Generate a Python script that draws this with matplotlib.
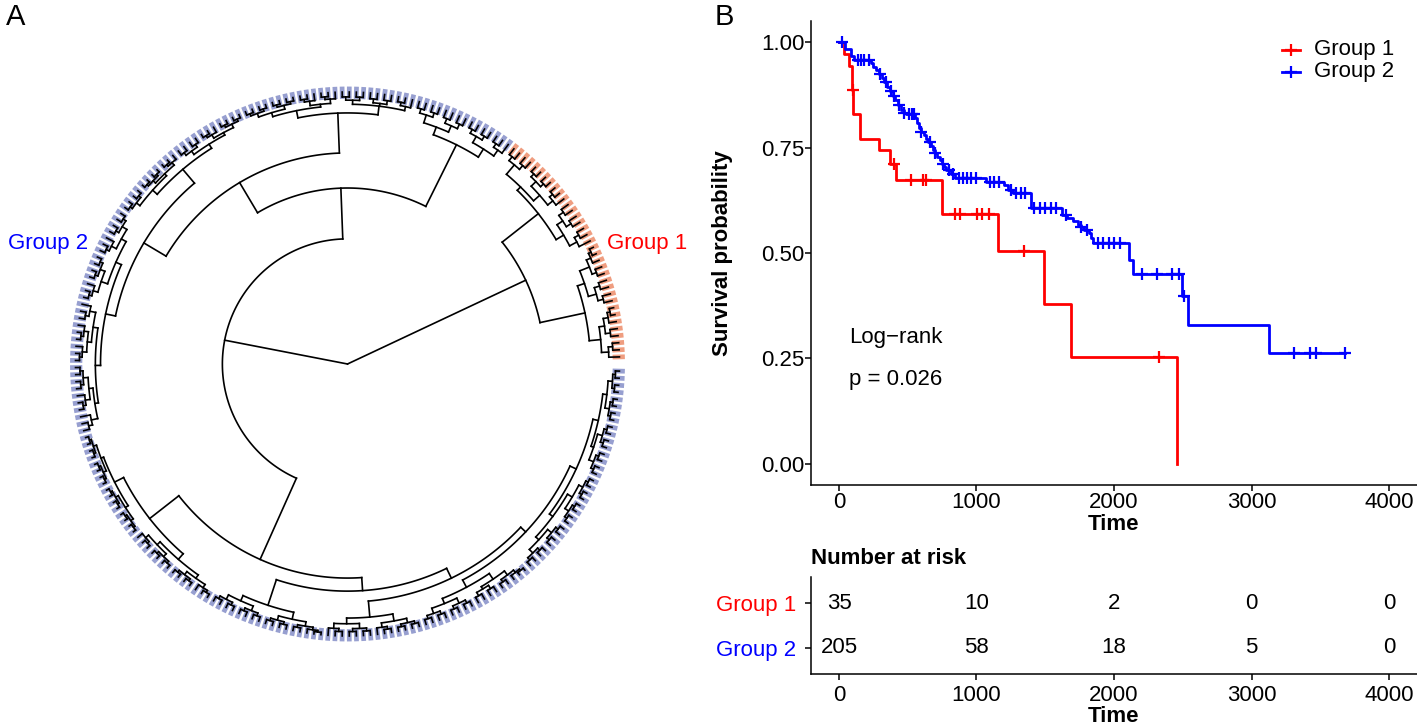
import numpy as np
import matplotlib
matplotlib.use("Agg")
import matplotlib.pyplot as plt
from matplotlib.collections import LineCollection
from matplotlib.lines import Line2D

plt.rcParams['font.family'] = ['Liberation Sans', 'DejaVu Sans']

W, H = 1417, 725

# ---------------- data ----------------
# dendrogram nodes: [height, child, child, ...]; an int is a small clade of n leaves
g1_tree = [0.724,
           [0.893, [0.935, 3, [0.955, 2, 3]], [0.92, [0.95, 4], [0.958, 5]]],
           [0.893, [0.925, [0.955, 3], [0.95, 4]], [0.91, [0.94, 3, 4], [0.955, 4]]]]
a_right = [0.90, [0.935, 3, 4], [0.93, [0.955, 4], [0.96, 4]]]
a_left_1 = [0.923, [0.955, [0.97, 3], [0.965, 4], [0.97, 4]], [0.95, [0.96, 3, 3], [0.965, 4, 4]]]
a_left_2a = [0.9375, [0.955, [0.965, 4, 3], [0.97, 4]], [0.96, [0.97, 3, 4], 4]]
a_left_2b = [0.908, [0.93, [0.95, 4, 3], [0.955, 4, 3]],
             [0.927, [0.945, 3, [0.96, 3, 3]], [0.94, [0.955, 4, 3], 3]]]
b1 = [0.923, [0.96, [0.97, 4, 4], [0.972, 4, 4]], [0.95, [0.965, 3, 4], [0.965, 4, 3]]]
b2a = [0.934, [0.955, 4, 4], [0.96, 4, 5]]
b2b1 = [0.934, [0.955, 3, 4], [0.96, 3, 4]]
b2b2c1 = [0.93, [0.95, 4, 4], [0.955, [0.965, 4], 5]]
b2b2c2 = [0.925, [0.94, [0.955, 4, 4], [0.96, 4, 4]], [0.945, [0.955, 4, 4], [0.96, 4, 4]]]
g2_tree = [0.46,
           [0.647, a_right, [0.776, a_left_1, [0.871, a_left_2a, a_left_2b]]],
           [0.787, b1, [0.835, b2a, [0.875, b2b1, [0.90, b2b2c1, b2b2c2]]]]]
tree = [0.0, g1_tree, g2_tree]
n_group1 = 35
n_leaves = 240

# Kaplan-Meier steps (time, survival after the step)
g1_time = [0, 39, 71, 94, 103, 152, 291, 371, 416, 749, 1153, 1491, 1685, 2460]
g1_surv = [1.0, 0.971, 0.943, 0.886, 0.829, 0.771, 0.743, 0.711, 0.674, 0.593, 0.505, 0.379, 0.253, 0.0]
g1_cens = [100, 400, 523, 613, 636, 846, 878, 1007, 1040, 1090, 1346, 2324]

g2_time = [0, 45, 85, 110, 230, 250, 270, 290, 310, 330, 350, 370, 390, 410, 430, 450, 470, 490,
           555, 570, 585, 600, 620, 635, 650, 668, 685, 700, 715, 733, 750, 765, 780, 815, 845,
           1070, 1200, 1230, 1266, 1395, 1621, 1660, 1700, 1735, 1760, 1780, 1815, 1830, 1847,
           2111, 2137, 2492, 2541, 3128, 3680]
g2_surv = [1.0, 0.984, 0.967, 0.958, 0.950, 0.942, 0.933, 0.925, 0.915, 0.905, 0.894, 0.884, 0.872,
           0.862, 0.850, 0.840, 0.833, 0.830, 0.819, 0.808, 0.796, 0.787, 0.779, 0.770, 0.763, 0.753,
           0.744, 0.736, 0.728, 0.720, 0.712, 0.704, 0.696, 0.688, 0.677, 0.669, 0.661, 0.649, 0.642,
           0.607, 0.591, 0.583, 0.575, 0.567, 0.561, 0.555, 0.547, 0.536, 0.524, 0.484, 0.450, 0.397,
           0.330, 0.263, 0.263]
g2_cens = [23, 136, 160, 185, 216, 300, 340, 380, 400, 440, 470, 510, 530, 545, 600, 660, 700, 760,
           800, 830, 870, 900, 930, 960, 1000, 1100, 1130, 1160, 1250, 1290, 1320, 1350, 1420, 1460,
           1500, 1540, 1580, 1650, 1760, 1800, 1880, 1920, 1960, 2000, 2040, 2200, 2310, 2420, 2470,
           2510, 3309, 3429, 3470, 3680]

risk_times = [0, 1000, 2000, 3000, 4000]
risk_g1 = [35, 10, 2, 0, 0]
risk_g2 = [205, 58, 18, 5, 0]
groups = ['Group 1', 'Group 2']
colors = ['#FF0000', '#0000FF']
tip_colors = ['#EE9372', '#8C95CB']


def box(x0, y0, x1, y1):
    return [x0 / W, 1 - y1 / H, (x1 - x0) / W, (y1 - y0) / H]


def expand(node, h_parent):
    if node == 1:
        return 1
    if isinstance(node, int):
        node = [h_parent + (1.0 - h_parent) * 0.4, node]
    h = node[0]
    kids = node[1:]
    if len(kids) == 1 and isinstance(kids[0], int):
        n = kids[0]
        kids = [n // 2, n - n // 2]
    return [h] + [expand(k, h) for k in kids]


fig = plt.figure(figsize=(W / 100, H / 100), dpi=100)

# ---------------- panel A: circular dendrogram ----------------
axa = fig.add_axes([0, 0, 700 / W, 1])
unit, cx, cy = 272.0, 347.5, 364.0
axa.set_xlim(-cx / unit, (700 - cx) / unit)
axa.set_ylim(-(H - cy) / unit, cy / unit)
axa.axis('off')

step = 2 * np.pi / (n_leaves + 1)
segs, tips = [], []


def layout(node, r_parent):
    if node == 1:
        th = (len(tips) + 1) * step
        tips.append(th)
        segs.append([(r_parent * np.cos(th), r_parent * np.sin(th)), (np.cos(th), np.sin(th))])
        return th
    h = node[0]
    angs = [layout(c, h) for c in node[1:]]
    th = np.mean(angs)
    if h > 0:
        t = np.linspace(min(angs), max(angs), max(2, int((max(angs) - min(angs)) / 0.01)))
        segs.append(np.column_stack([h * np.cos(t), h * np.sin(t)]))
    if r_parent is not None:
        segs.append([(r_parent * np.cos(th), r_parent * np.sin(th)), (h * np.cos(th), h * np.sin(th))])
    return th


layout(expand(tree, 0.0), None)

tip_segs = [[(0.975 * np.cos(t), 0.975 * np.sin(t)), (1.02 * np.cos(t), 1.02 * np.sin(t))] for t in tips]
tip_cols = [tip_colors[0] if i < n_group1 else tip_colors[1] for i in range(len(tips))]
axa.add_collection(LineCollection(tip_segs, colors=tip_cols, linewidths=3.4, alpha=0.9, capstyle='butt'))
axa.add_collection(LineCollection(segs, colors='black', linewidths=1.2, capstyle='projecting'))

fig.text(8 / W, 1 - 244 / H, 'Group 2', color='#0000FF', fontsize=16, ha='left', va='center')
fig.text(607 / W, 1 - 244 / H, 'Group 1', color='#FF0000', fontsize=16, ha='left', va='center')
fig.text(16 / W, 1 - 17 / H, 'A', fontsize=21, ha='center', va='center')
fig.text(724 / W, 1 - 17 / H, 'B', fontsize=21, ha='center', va='center')

# ---------------- panel B: survival curves ----------------
ax = fig.add_axes(box(811.5, 21, 1416.5, 485))
for t, s, cens, col in [(g1_time, g1_surv, g1_cens, colors[0]), (g2_time, g2_surv, g2_cens, colors[1])]:
    t = np.array(t)
    s = np.array(s)
    ax.step(t, s, where='post', color=col, lw=2.0)
    c = np.array(cens)
    cs = s[np.searchsorted(t, c, side='right') - 1]
    ax.plot(c, cs, '+', color=col, ms=8, mew=1.6, ls='none')

ax.set_xlim(-200, 4200)
ax.set_ylim(-0.05, 1.05)
ax.set_xticks(risk_times)
ax.set_yticks([0, 0.25, 0.5, 0.75, 1.0])
ax.set_yticklabels(['0.00', '0.25', '0.50', '0.75', '1.00'])
for sp in ['top', 'right']:
    ax.spines[sp].set_visible(False)
for sp in ['left', 'bottom']:
    ax.spines[sp].set_linewidth(1.1)
ax.tick_params(labelsize=16, length=4, width=1.1, pad=1)
ax.set_ylabel('Survival probability', fontsize=16, fontweight='bold')
ax.yaxis.set_label_coords((733 - 811.5) / 605, 0.5)
ax.text(76, 0.30, 'Log\u2212rank', fontsize=16, va='center', ha='left')
ax.text(76, 0.20, 'p = 0.026', fontsize=16, va='center', ha='left')
fig.text(1114 / W, 1 - 524 / H, 'Time', fontsize=16, fontweight='bold', ha='center', va='center')

# legend
for i, (lab, col) in enumerate(zip(groups, colors)):
    yy = 1 - (50 + 22 * i) / H
    fig.add_artist(Line2D([1282 / W, 1300 / W], [yy, yy], color=col, lw=2.0, transform=fig.transFigure))
    fig.add_artist(Line2D([1291 / W], [yy], color=col, marker='+', ms=8, mew=1.6, transform=fig.transFigure))
    fig.text(1314 / W, yy, lab, fontsize=16, ha='left', va='center')

# ---------------- risk table ----------------
axr = fig.add_axes(box(811.5, 577, 1416.5, 674))
axr.set_xlim(-200, 4200)
axr.set_ylim(0.41, 2.59)
for vals, yrow in [(risk_g1, 2), (risk_g2, 1)]:
    for tt, v in zip(risk_times, vals):
        axr.text(tt, yrow, str(v), fontsize=16, ha='center', va='center')
axr.set_xticks(risk_times)
axr.set_yticks([2, 1])
axr.set_yticklabels(groups)
for lab, col in zip(axr.get_yticklabels(), colors):
    lab.set_color(col)
for sp in ['top', 'right']:
    axr.spines[sp].set_visible(False)
for sp in ['left', 'bottom']:
    axr.spines[sp].set_linewidth(1.1)
axr.tick_params(labelsize=16, length=4, width=1.1)
axr.tick_params(axis='y', pad=7)
axr.tick_params(axis='x', pad=4)
fig.text(811.5 / W, 1 - 558 / H, 'Number at risk', fontsize=16, fontweight='bold', ha='left', va='center')
fig.text(1114 / W, 1 - 717 / H, 'Time', fontsize=16, fontweight='bold', ha='center', va='center')

fig.savefig('out.png', dpi=100)
